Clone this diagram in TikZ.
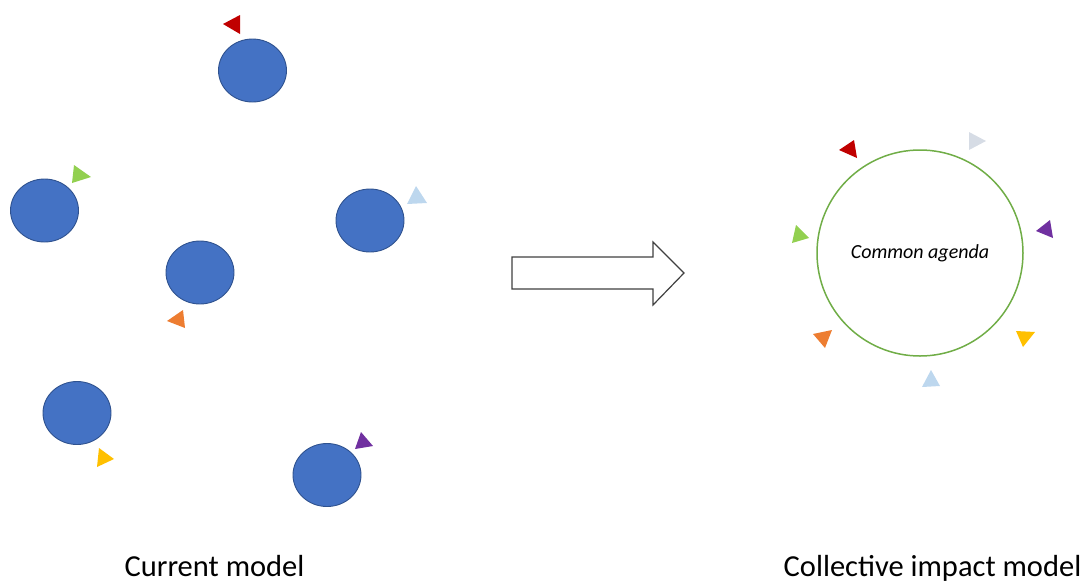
\documentclass[tikz,border=0pt]{standalone}
\usepackage{fontspec}
\setmainfont{Carlito}
\definecolor{dotfill}{HTML}{4472C4}
\definecolor{dotline}{HTML}{2F528F}
\definecolor{ringgreen}{HTML}{70AD47}
\definecolor{tred}{HTML}{C00000}
\definecolor{tgreen}{HTML}{92D050}
\definecolor{tsky}{HTML}{BDD7EE}
\definecolor{torange}{HTML}{ED7D31}
\definecolor{tyellow}{HTML}{FFC000}
\definecolor{tpurple}{HTML}{7030A0}
\definecolor{tgrey}{HTML}{D6DCE5}
\definecolor{arrowline}{HTML}{404040}
\tikzset{
  actor/.style={ellipse, draw=dotline, line width=0.9pt, fill=dotfill,
    minimum width=68pt, minimum height=63pt, inner sep=0pt},
  flag/.style={fill=#1, draw=none},
  caption/.style={font=\fontsize{30.5}{36}\selectfont, anchor=base, inner sep=0pt},
}
\usetikzlibrary{shapes.geometric}
\begin{document}
\begin{tikzpicture}[x=1pt,y=-1pt]
\useasboundingbox (0,0) rectangle (1085,582);

% current model: scattered actors, each with its own direction
\node[actor] (a1) at (252.5,70.5) {};
\node[actor] (a2) at (44.5,210.5) {};
\node[actor] (a3) at (370,220.5) {};
\node[actor] (a4) at (200,272.5) {};
\node[actor] (a5) at (77,413) {};
\node[actor] (a6) at (327,475) {};

\fill[flag=tred]    (240,15) -- (240,34) -- (223,24) -- cycle;
\fill[flag=tgreen]  (74,165) -- (91,177) -- (72,183) -- cycle;
\fill[flag=tsky]    (416,186) -- (427,203) -- (407,204) -- cycle;
\fill[flag=torange] (183,310) -- (185,328) -- (167,321) -- cycle;
\fill[flag=tyellow] (99,448) -- (114,459) -- (97,467) -- cycle;
\fill[flag=tpurple] (361,432) -- (373,446) -- (355,449) -- cycle;

% transition arrow
\draw[arrowline, line width=1.2pt, line join=miter, fill=white]
  (512,257) -- (653,257) -- (653,242) -- (684,273) -- (653,305)
  -- (653,289) -- (512,289) -- cycle;

% collective impact model: actors aligned around a shared agenda
\node[circle, draw=ringgreen, line width=1.5pt, minimum size=206pt, inner sep=0pt,
  font=\fontsize{20}{24}\selectfont\itshape] (agenda) at (920,253) {Common agenda};

\fill[flag=tred]    (839,150) -- (854,140) -- (857,158) -- cycle;
\fill[flag=tgrey]   (969,132) -- (986,141) -- (969,150) -- cycle;
\fill[flag=tgreen]  (796,225) -- (809,238) -- (792,243) -- cycle;
\fill[flag=tpurple] (1050,220) -- (1053,238) -- (1036,231) -- cycle;
\fill[flag=torange] (813,334) -- (832,330) -- (825,348) -- cycle;
\fill[flag=tyellow] (1016,331) -- (1035,332) -- (1023,347) -- cycle;
\fill[flag=tsky]    (931,370) -- (940,386) -- (922,387) -- cycle;

% captions
\node[caption] (capL) at (214.5,576) {Current model};
\node[caption] (capR) at (932.5,576) {Collective impact model};
\end{tikzpicture}
\end{document}
